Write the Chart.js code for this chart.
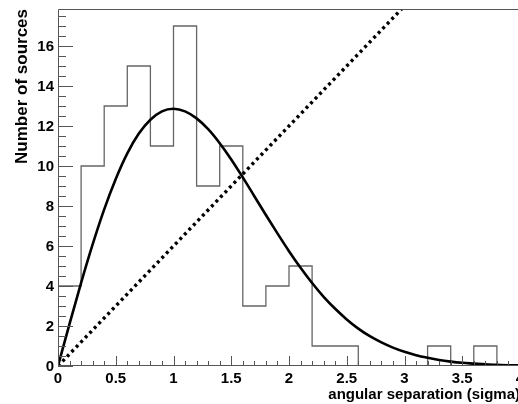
<!DOCTYPE html>
<html>
<head>
<meta charset="utf-8">
<script src="https://cdn.jsdelivr.net/npm/chart.js@4"></script>
<style>
  html, body { margin: 0; padding: 0; background: #fff; overflow: hidden; }
  #wrap { width: 522px; height: 404px; }
</style>
</head>
<body>
<div id="wrap"><canvas id="chart" width="522" height="404"></canvas></div>
<script>
// histogram bins (width 0.2 sigma)
const binEdges = [0, 0.2, 0.4, 0.6, 0.8, 1.0, 1.2, 1.4, 1.6, 1.8, 2.0,
                  2.2, 2.4, 2.6, 2.8, 3.0, 3.2, 3.4, 3.6, 3.8, 4.0];
const binCounts = [4, 10, 13, 15, 11, 17, 9, 11, 3, 4, 5, 1, 1, 0, 0, 0, 1, 0, 1, 0];

// fitted curve
const fitX = [0, 0.1, 0.2, 0.3, 0.4, 0.5, 0.6, 0.7, 0.8, 0.9, 1.0, 1.1, 1.2, 1.3, 1.4,
              1.5, 1.6, 1.7, 1.8, 1.9, 2.0, 2.1, 2.2, 2.3, 2.4, 2.5, 2.6, 2.7, 2.8,
              2.9, 3.0, 3.1, 3.2, 3.3, 3.4, 3.5, 3.6, 3.7, 3.8, 3.9, 4.0];
const fitY = [0, 2.11, 4.16, 6.08, 7.83, 9.35, 10.63, 11.62, 12.31, 12.73, 12.86, 12.73,
              12.38, 11.84, 11.14, 10.33, 9.43, 8.49, 7.55, 6.63, 5.74, 4.91, 4.15, 3.46,
              2.86, 2.33, 1.87, 1.49, 1.18, 0.92, 0.71, 0.54, 0.41, 0.30, 0.22, 0.16,
              0.12, 0.08, 0.06, 0.04, 0.03];

// dotted reference line
const refX = [0, 3];
const refY = [0, 18];

const xTicks = [0, 0.5, 1, 1.5, 2, 2.5, 3, 3.5, 4];
const yTicks = [0, 2, 4, 6, 8, 10, 12, 14, 16];

const FONT = '"Liberation Sans", Arial, Helvetica, sans-serif';

const histPoints = binCounts.map((c, i) => ({ x: binEdges[i], y: c }));
histPoints.push({ x: binEdges[binEdges.length - 1], y: binCounts[binCounts.length - 1] });

// ROOT-like frame, inward ticks and labels
const axisDecor = {
    id: 'axisDecor',
    afterDatasetsDraw(chart) {
        const { ctx, chartArea: a, scales: { x, y } } = chart;
        ctx.save();
        ctx.strokeStyle = '#555';
        ctx.lineWidth = 1;

        ctx.beginPath();
        ctx.rect(a.left + 0.5, a.top + 0.5, a.right - a.left - 1, a.bottom - a.top - 1);
        ctx.stroke();

        ctx.beginPath();
        for (let k = 0; k <= 40; k++) {
            const px = Math.round(x.getPixelForValue(k / 10)) + 0.5;
            const len = k % 5 === 0 ? 10 : 5;
            ctx.moveTo(px, a.bottom);
            ctx.lineTo(px, a.bottom - len);
        }
        for (let k = 0; k * 0.5 <= y.max; k++) {
            const py = Math.round(y.getPixelForValue(k * 0.5)) + 0.5;
            const len = k % 4 === 0 ? 15 : 8;
            ctx.moveTo(a.left, py);
            ctx.lineTo(a.left + len, py);
        }
        ctx.stroke();

        ctx.fillStyle = '#000';
        ctx.font = 'bold 15px ' + FONT;
        ctx.textAlign = 'center';
        ctx.textBaseline = 'alphabetic';
        xTicks.forEach(v => {
            ctx.fillText(String(v), x.getPixelForValue(v), a.bottom + 17);
        });
        ctx.textAlign = 'right';
        yTicks.forEach(v => {
            ctx.fillText(String(v), a.left - 4, y.getPixelForValue(v) + 5);
        });
        ctx.restore();
    }
};

new Chart(document.getElementById('chart'), {
    type: 'line',
    data: {
        datasets: [
            {
                label: 'fit',
                data: fitX.map((v, i) => ({ x: v, y: fitY[i] })),
                borderColor: '#000',
                borderWidth: 2.6,
                pointRadius: 0,
                cubicInterpolationMode: 'monotone',
                fill: false
            },
            {
                label: 'reference',
                data: refX.map((v, i) => ({ x: v, y: refY[i] })),
                borderColor: '#000',
                borderWidth: 3.4,
                borderDash: [3, 3.5],
                pointRadius: 0,
                fill: false
            },
            {
                label: 'sources',
                data: histPoints,
                borderColor: '#666',
                borderWidth: 1.3,
                stepped: 'before',
                pointRadius: 0,
                fill: false
            }
        ]
    },
    options: {
        responsive: false,
        animation: false,
        events: [],
        layout: { padding: { left: 0, top: 9, right: 2, bottom: 0 } },
        plugins: {
            legend: { display: false },
            tooltip: { enabled: false }
        },
        scales: {
            x: {
                type: 'linear',
                min: 0,
                max: 4,
                grid: { display: false },
                border: { display: false },
                ticks: { display: false },
                title: {
                    display: true,
                    text: 'angular separation (sigma)',
                    align: 'end',
                    color: '#000',
                    font: { family: FONT, size: 15, weight: 'bold' },
                    padding: 0
                },
                afterFit: s => { s.height = 38; }
            },
            y: {
                min: 0,
                max: 17.85,
                grid: { display: false },
                border: { display: false },
                ticks: { display: false },
                title: {
                    display: true,
                    text: 'Number of sources',
                    align: 'end',
                    color: '#000',
                    font: { family: FONT, size: 17, weight: 'bold' },
                    padding: { top: 12, bottom: 0 }
                },
                afterFit: s => { s.width = 58; }
            }
        }
    },
    plugins: [axisDecor]
});
</script>
</body>
</html>
